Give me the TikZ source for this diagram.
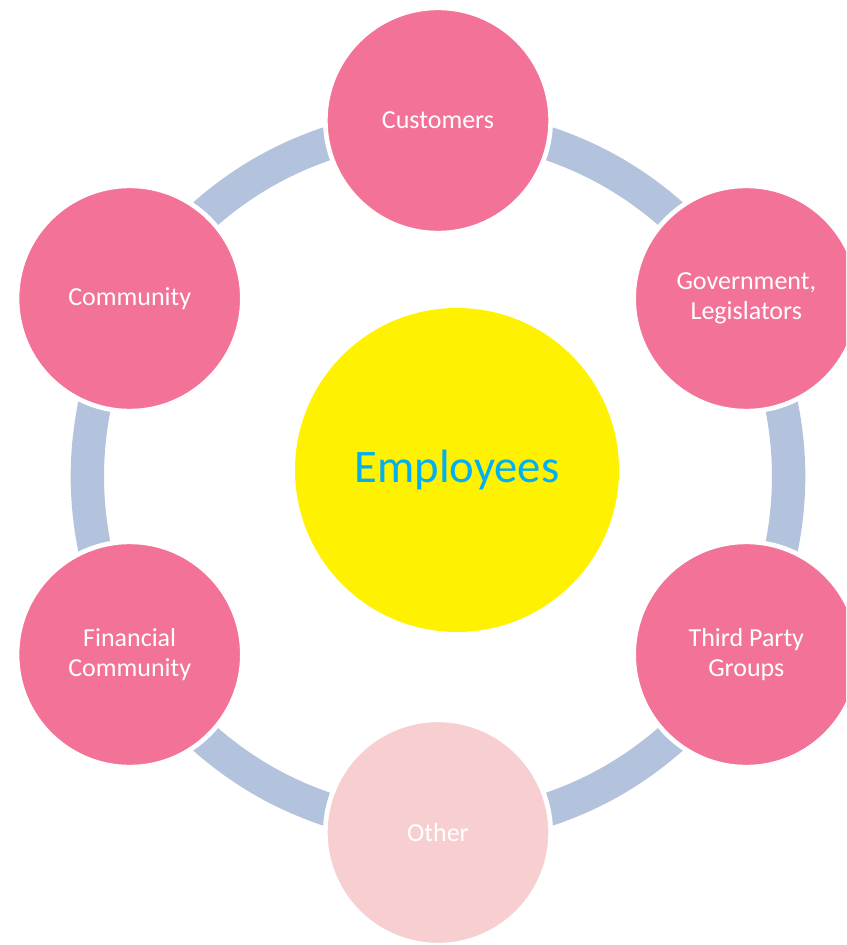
\documentclass[tikz,border=0pt]{standalone}
\usepackage{fontspec}
\setmainfont{Carlito}
\usetikzlibrary{backgrounds}
\definecolor{petal}{HTML}{F37297}
\definecolor{petallight}{HTML}{F8CFD0}
\definecolor{ringblue}{HTML}{B3C3DE}
\definecolor{hubtext}{HTML}{00B0F0}
\begin{document}
\begin{tikzpicture}[x=0.75pt,y=0.75pt,
  petalnode/.style={circle, fill=petal, draw=white, line width=3.5pt, minimum size=169pt, inner sep=0pt, text=white, font=\fontsize{19.5}{22.5}\selectfont, align=center},
  ringlink/.style={draw=ringblue, line width=25pt},
  hub/.style={circle, fill=yellow, minimum size=243pt, inner sep=0pt, text=hubtext, font=\fontsize{35}{42}\selectfont}]
\useasboundingbox (-438,-468.5) rectangle (408,476.5);
\clip (-438,-468.5) rectangle (408,476.5);
\node[hub] (emp) at (19,6.5) {Employees};
\node[petalnode] (cust) at (90:356) {Customers};
\node[petalnode] (gov) at (30:356) {Government,\\Legislators};
\node[petalnode] (third) at (-30:356) {Third Party\\Groups};
\node[petalnode, fill=petallight] (other) at (-90:356) {Other};
\node[petalnode] (fin) at (210:356) {Financial\\Community};
\node[petalnode] (comm) at (150:356) {Community};
\begin{scope}[on background layer]
\draw[ringlink] (cust.center) to[bend right=24] (comm.center);
\draw[ringlink] (comm.center) to[bend right=24] (fin.center);
\draw[ringlink] (fin.center) to[bend right=24] (other.center);
\draw[ringlink] (other.center) to[bend right=24] (third.center);
\draw[ringlink] (third.center) to[bend right=24] (gov.center);
\draw[ringlink] (gov.center) to[bend right=24] (cust.center);
\end{scope}
\end{tikzpicture}
\end{document}
